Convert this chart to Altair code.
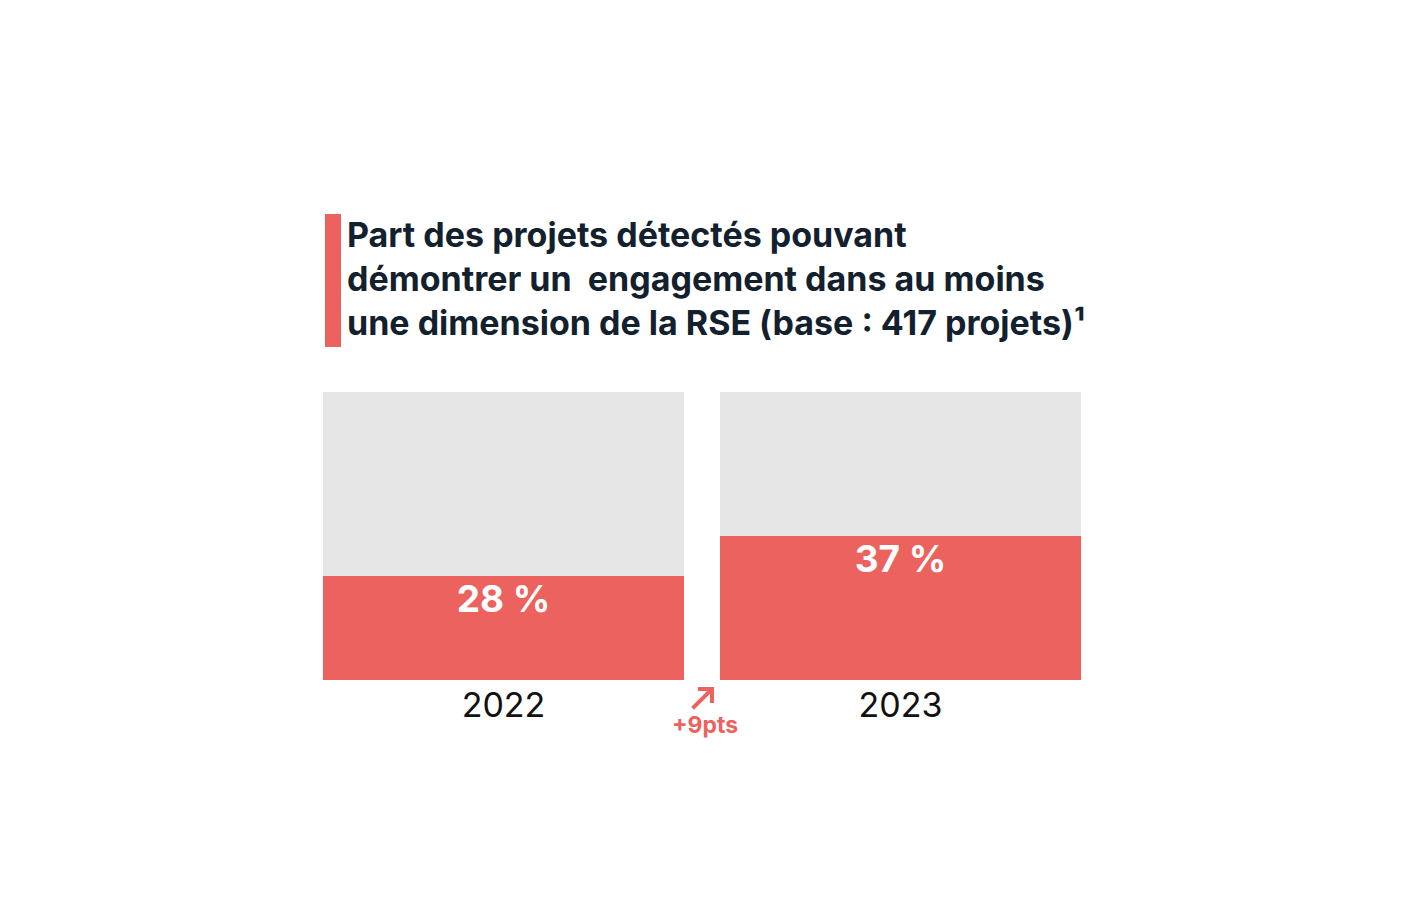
import altair as alt
import pandas as pd

# ---- data ----
years = ["2022", "2023"]
values = [28, 37]
y_domain = [4.6, 69.4]  # visual scale used by the original graphic
title_lines = [
    "Part des projets détectés pouvant",
    "démontrer un\u00a0 engagement dans au moins",
    "une dimension de la RSE (base : 417 projets)¹",
]
delta_label = f"+{values[1] - values[0]}pts"

RED = "#EC625E"
GRAY = "#E6E6E6"
NAVY = "#13202D"

df = pd.DataFrame({"year": years, "value": values,
                   "label": [f"{v}\u00a0%" for v in values]})

x_enc = alt.X("year:N", title=None, sort=years,
              scale=alt.Scale(paddingInner=0.0907, paddingOuter=0),
              axis=alt.Axis(labelFontSize=34, labelFont="Inter", labelColor="#111111",
                            labelAngle=0, domain=False, ticks=False, labelPadding=9,
                            labelFontWeight="normal"))
y_scale = alt.Scale(domain=y_domain, zero=False, nice=False)

base = alt.Chart(df)

track = base.mark_bar(color=GRAY).encode(
    x=x_enc,
    y=alt.datum(y_domain[1], type="quantitative", scale=y_scale, axis=None),
    y2=alt.datum(y_domain[0]),
)

bars = base.mark_bar(color=RED).encode(
    x=x_enc,
    y=alt.Y("value:Q", scale=y_scale, axis=None),
    y2=alt.datum(y_domain[0]),
)

labels = base.mark_text(color="white", font="Inter", fontWeight="bold", fontSize=37,
                        baseline="top", dy=7).encode(
    x=x_enc,
    y=alt.Y("value:Q", scale=y_scale, axis=None),
    text="label:N",
)

# ---- title block (annotation) ----
title_df = pd.DataFrame({"t": ["\n".join(title_lines)]})
title_text = alt.Chart(title_df).mark_text(
    font="Inter", fontWeight="bold", fontSize=34, color=NAVY, align="left",
    baseline="alphabetic", lineBreak="\n", lineHeight=44,
).encode(x=alt.value(24), y=alt.value(-145), text="t:N")

accent = alt.Chart(title_df).mark_rule(color=RED, strokeWidth=16).encode(
    x=alt.value(10), y=alt.value(-178), y2=alt.value(-45))

# ---- delta annotation ----
delta_df = pd.DataFrame({"t": [delta_label]})
delta_text = alt.Chart(delta_df).mark_text(
    font="Inter", fontWeight="bold", fontSize=23, color=RED, align="center",
    baseline="alphabetic").encode(x=alt.value(382), y=alt.value(341), text="t:N")

arrow_style = dict(color=RED, strokeWidth=4, strokeCap="square")
arrow_diag = alt.Chart(delta_df).mark_rule(**arrow_style).encode(
    x=alt.value(371), y=alt.value(315), x2=alt.value(388), y2=alt.value(298))
arrow_top = alt.Chart(delta_df).mark_rule(**arrow_style).encode(
    x=alt.value(377), y=alt.value(297), x2=alt.value(389), y2=alt.value(297))
arrow_right = alt.Chart(delta_df).mark_rule(**arrow_style).encode(
    x=alt.value(389), y=alt.value(297), x2=alt.value(389), y2=alt.value(309))

chart = alt.layer(track, bars, labels, accent, title_text, delta_text,
                  arrow_diag, arrow_top, arrow_right).properties(
    width=758, height=288,
    autosize=alt.AutoSizeParams(type="none"),
    padding={"left": 315, "top": 384, "right": 20, "bottom": 150},
).configure_view(strokeWidth=0)

chart.save("out.html", embed_options={"renderer": "svg", "actions": False})
